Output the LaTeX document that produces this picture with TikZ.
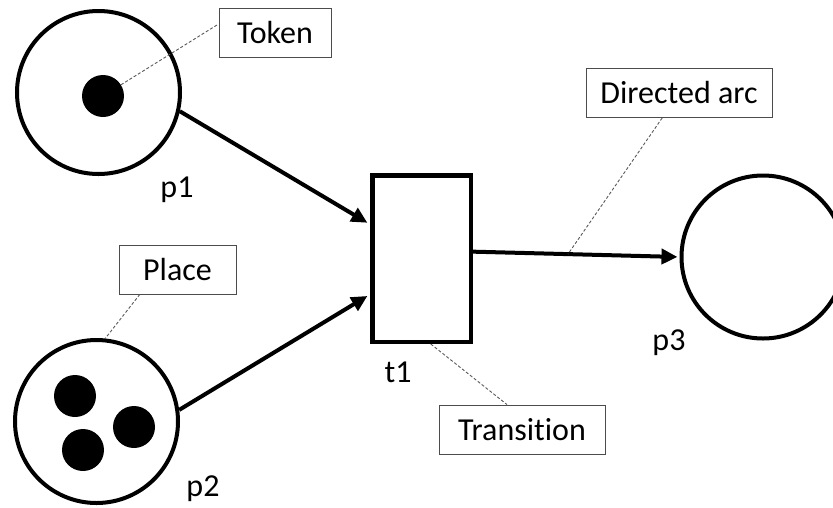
\documentclass[tikz,border=0pt]{standalone}
\usepackage{fontspec}
\setmainfont{Carlito}[Ligatures=NoCommon,RawFeature=-liga]
\usetikzlibrary{arrows.meta,calc}

\begin{document}
\begin{tikzpicture}[x=1pt,y=-1pt,
  every node/.style={font=\fontsize{32}{38}\selectfont},
  place/.style={circle,draw,line width=4pt,inner sep=0pt,minimum size=163pt},
  transbox/.style={rectangle,draw,line width=4.5pt,inner sep=0pt,minimum width=98.5pt,minimum height=166.5pt},
  token/.style={circle,fill=black,inner sep=0pt,minimum size=42pt},
  callout/.style={rectangle,draw=black!70,line width=0.9pt,minimum height=49pt,inner sep=0pt},
  arc/.style={line width=4pt,-{Triangle[length=16pt,width=15pt]}},
  pointer/.style={draw=black!65,line width=0.9pt,dash pattern=on 3pt off 2pt},
  lbl/.style={inner sep=0pt}]
\useasboundingbox (0,0) rectangle (833,507);

% places, transition and tokens
\node[place] (p1) at (98.5,92.5) {};
\node[place] (p2) at (96.5,421.5) {};
\node[place] (p3) at (763,257) {};
\node[transbox] (t1) at (421.5,258.5) {};

\node[token] (k1) at (103,96) {};
\node[token] (k2) at (75,396) {};
\node[token] (k3) at (134,427) {};
\node[token] (k4) at (83,450) {};

% element labels
\node[lbl] (lp1) at (177,190) {p1};
\node[lbl] (lp2) at (203,489) {p2};
\node[lbl] (lp3) at (669,343) {p3};
\node[lbl] (lt1) at (398,372) {t1};

% callout boxes
\node[callout,minimum width=112pt] (cTok) at (275,32.5) {Token};
\node[callout,minimum width=117pt] (cPl) at (177.5,269.5) {Place};
\node[callout,minimum width=166pt] (cTr) at (522,429.5) {Transition};
\node[callout,minimum width=186pt] (cArc) at (679,93) {Directed arc};

% connection points on the transition
\coordinate (in1) at ($(t1.north west)!0.30!(t1.south west)$);
\coordinate (in2) at ($(t1.north west)!0.71!(t1.south west)$);
\coordinate (out1) at ($(t1.north east)!0.46!(t1.south east)$);

% directed arcs
\draw[arc,shorten >=3pt] (p1.-13) -- (in1);
\draw[arc,shorten >=3pt] (p2.8) -- (in2);
\draw[arc,shorten >=2pt] (out1) -- coordinate[pos=0.46] (arcpt) (p3.west);

% dashed pointers from callouts
\coordinate (tokEnd) at ($(cTok.south west)!0.67!(cTok.north west)$);
\draw[pointer] (k1) -- (tokEnd);
\draw[pointer] ($(cPl.south west)!0.18!(cPl.south east)$) -- (p2.84);
\draw[pointer] ($(t1.south west)!0.59!(t1.south east)$) -- ($(cTr.north west)!0.41!(cTr.north east)$);
\draw[pointer] ($(cArc.south west)!0.41!(cArc.south east)$) -- (arcpt);
\end{tikzpicture}
\end{document}
